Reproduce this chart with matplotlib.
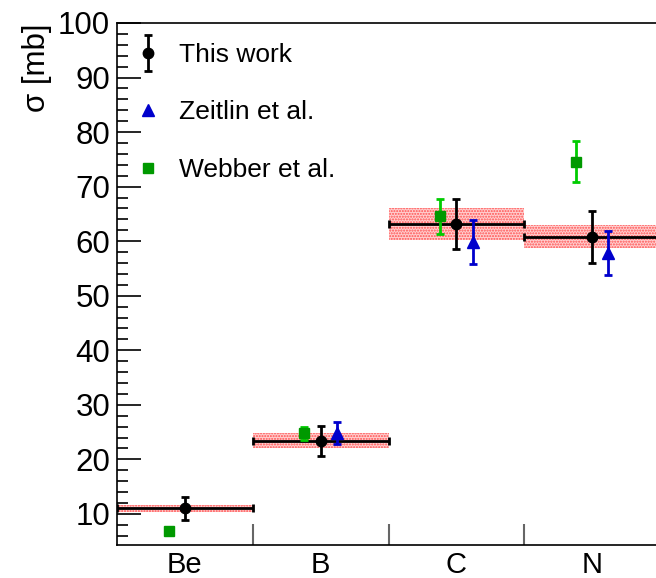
import matplotlib
matplotlib.use("Agg")
import matplotlib.pyplot as plt
from matplotlib.patches import Rectangle
from matplotlib.ticker import MultipleLocator, FixedLocator
from matplotlib.legend_handler import HandlerErrorbar
from matplotlib.container import ErrorbarContainer
import numpy as np

plt.rcParams['font.family'] = ['Liberation Sans', 'DejaVu Sans']

categories = ["Be", "B", "C", "N"]
this_val = [11.0, 23.4, 63.2, 60.8]
this_stat = [2.1, 2.7, 4.6, 4.8]
this_sys = [0.7, 1.35, 2.9, 2.1]

zeitlin_cat = [1, 2, 3]
zeitlin_val = [24.9, 59.8, 57.8]
zeitlin_err = [2.0, 4.0, 4.0]

webber_val = [6.9, 24.8, 64.6, 74.6]
webber_err = [0.0, 1.2, 3.2, 3.7]

W, H = 656, 578
fig = plt.figure(figsize=(W/100, H/100), dpi=100)
ax = fig.add_axes([117/W, (H-545)/H, (660-117)/W, (545-23)/H])

x = np.arange(len(categories)) + 0.5
off = 0.12

# systematic bands
for xi, v, s in zip(x, this_val, this_sys):
    ax.add_patch(Rectangle((xi-0.5, v-s), 1.0, 2*s, facecolor='#ffd0d0',
                           edgecolor='#ff5050', hatch='......', linewidth=0, zorder=1))

ax.errorbar(x, this_val, xerr=0.5, fmt='none', ecolor='black', elinewidth=2,
            capsize=3, capthick=2, zorder=3)
h_this = ax.errorbar(x, this_val, yerr=this_stat, fmt='o', color='black', ms=7.5,
                     elinewidth=2, capsize=3, capthick=2, zorder=5, label='This work')

zx = x[zeitlin_cat] + off
ax.errorbar(zx, zeitlin_val, yerr=zeitlin_err, fmt='none', ecolor='#0000cc',
            elinewidth=2, capsize=3, capthick=2, zorder=4)
h_z, = ax.plot(zx, zeitlin_val, '^', color='#0000cc', ms=8, zorder=4, label='Zeitlin et al.')

wx = x - off
ax.errorbar(wx, webber_val, yerr=webber_err, fmt='none', ecolor='#00cc00',
            elinewidth=2, capsize=3, capthick=2, zorder=4)
h_w, = ax.plot(wx, webber_val, 's', color='#009900', ms=7.5, zorder=4, label='Webber et al.')

ax.set_xlim(0, 4)
ax.set_ylim(4.3, 100)

ax.yaxis.set_major_locator(MultipleLocator(10))
ax.yaxis.set_minor_locator(MultipleLocator(2))
ax.tick_params(axis='y', which='major', direction='in', length=17, width=1.2,
               labelsize=22.5, pad=5)
ax.tick_params(axis='y', which='minor', direction='in', length=8, width=1.2)

ax.set_xticks(x)
ax.set_xticklabels(categories)
ax.xaxis.set_minor_locator(FixedLocator([1, 2, 3, 4]))
ax.tick_params(axis='x', which='major', length=0, labelsize=21, pad=4)
ax.tick_params(axis='x', which='minor', direction='in', length=15, width=1.5,
               color='#666666')

for sp in ax.spines.values():
    sp.set_linewidth(1.2)

ax.set_ylabel('σ [mb]', fontsize=22.5, loc='top', labelpad=4)

leg = ax.legend([h_this, h_z, h_w], ['This work', 'Zeitlin et al.', 'Webber et al.'],
                loc='upper left', bbox_to_anchor=(0.014, 0.982), frameon=False,
                fontsize=19, labelspacing=1.27, handlelength=1.0,
                handletextpad=0.67, borderaxespad=0,
                handler_map={ErrorbarContainer: HandlerErrorbar(yerr_size=0.68)})

fig.savefig('out.png', dpi=100)
